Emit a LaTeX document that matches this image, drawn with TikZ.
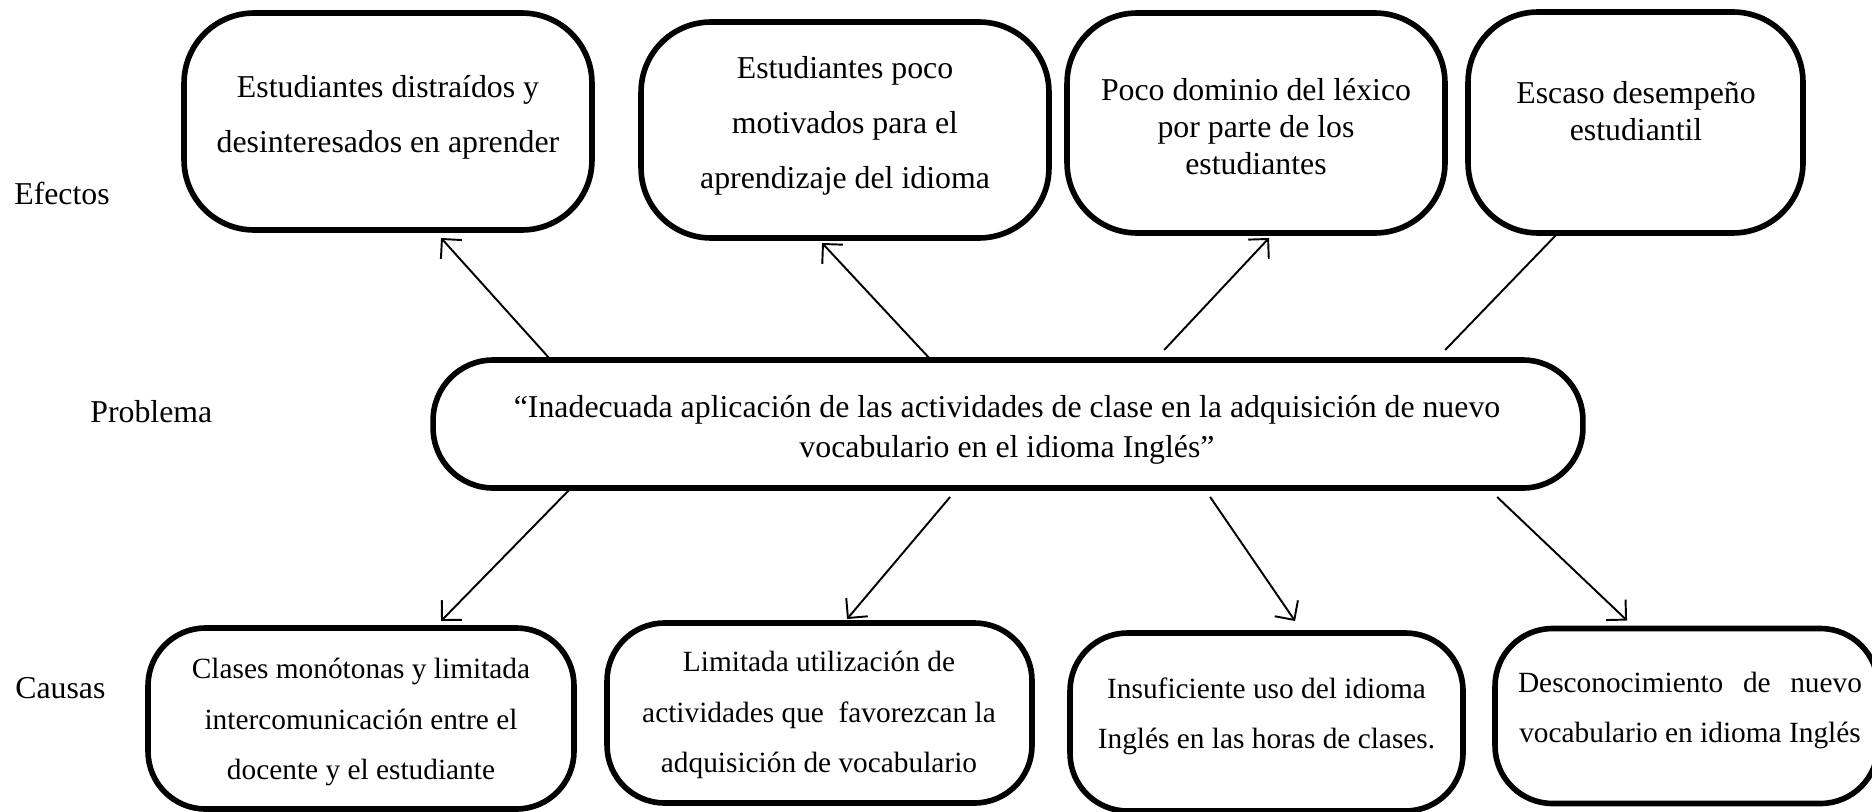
\documentclass[tikz,border=0pt]{standalone}
\usepackage{fontspec}
\setmainfont{Liberation Serif}
\usepackage{tikz}
\usetikzlibrary{shapes,arrows.meta,positioning,calc}
\tikzset{>={Straight Barb[length=8pt,width=16pt]}}
\tikzset{
  caja/.style={draw,line width=3.2pt,rounded corners=1.4cm,outer sep=0pt,inner sep=0pt},
  cajab/.style={caja,rounded corners=1.15cm},
  conector/.style={line width=1.1pt},
  txtefecto/.style={align=center,inner sep=0pt,font=\fontsize{18.1}{31.2}\selectfont},
  txtefectob/.style={align=center,inner sep=0pt,font=\fontsize{18.1}{21}\selectfont},
  txtcausa/.style={align=center,inner sep=0pt,font=\fontsize{16.7}{28.6}\selectfont},
  rotulo/.style={anchor=base west,inner sep=0pt,font=\fontsize{18.1}{21}\selectfont}
}

\begin{document}
\begin{tikzpicture}[x=0.02cm,y=-0.02cm]
    \useasboundingbox (0,0) rectangle (1872,811);

    \node [rotulo] (lefectos) at (14,204) {Efectos};
    \node [rotulo] (lproblema) at (90,422) {Problema};
    \node [rotulo] (lcausas) at (15,698) {Causas};

    \node [caja,minimum width=8.16cm,minimum height=4.34cm] (e1) at (388,121.5) {};
    \node [txtefecto] (e1t) at (388,117.5) {Estudiantes distraídos y\\desinteresados en aprender};
    \node [caja,minimum width=8.16cm,minimum height=4.32cm] (e2) at (845,130) {};
    \node [txtefecto] (e2t) at (845,126) {Estudiantes poco\\motivados para el\\aprendizaje del idioma};
    \node [caja,minimum width=7.56cm,minimum height=4.4cm] (e3) at (1256,123) {};
    \node [txtefectob] (e3t) at (1256,126.5) {Poco dominio del léxico\\por parte de los\\estudiantes};
    \node [caja,minimum width=6.7cm,minimum height=4.42cm] (e4) at (1635.5,122.5) {};
    \node [txtefectob] (e4t) at (1636,111) {Escaso desempeño\\estudiantil};

    \node [cajab,rounded corners=1.2cm,minimum width=23cm,minimum height=2.56cm] (prob) at (1008,424) {};
    \node [txtefectob,font=\fontsize{18.1}{22.7}\selectfont] (probt) at (1007,430) {“Inadecuada aplicación de las actividades de clase en la adquisición de nuevo\\vocabulario en el idioma Inglés”};

    \node [cajab,minimum width=8.52cm,minimum height=3.62cm] (c1) at (361,718.5) {};
    \node [txtcausa] (c1t) at (361,722) {Clases monótonas y limitada\\intercomunicación entre el\\docente y el estudiante};
    \node [cajab,minimum width=8.5cm,minimum height=3.6cm] (c2) at (819.5,713) {};
    \node [txtcausa] (c2t) at (819,715) {Limitada utilización de\\actividades que~ favorezcan la\\adquisición de vocabulario};
    \node [cajab,minimum width=7.86cm,minimum height=3.56cm] (c3) at (1266.5,722) {};
    \node [txtcausa] (c3t) at (1266.5,716) {Insuficiente uso del idioma\\Inglés en las horas de clases.};
    \node [cajab,minimum width=7.66cm,minimum height=3.5cm] (c4) at (1686.5,716) {};
    \node [txtcausa] (c4t) at (1690,710.5) {\hbox to 6.88cm{Desconocimiento\hfill de\hfill nuevo}\\vocabulario en idioma Inglés};

    \draw [conector,->] ([shift={(116,-2)}]prob.north west) -- ([shift={(257,8)}]e1.south west);
    \draw [conector,->] ([shift={(497,-1)}]prob.north west) -- ([shift={(181,5)}]e2.south west);
    \draw [conector,->] ([shift={(731,-10)}]prob.north west) -- ([shift={(202,5)}]e3.south west);
    \draw [conector] ([shift={(1012,-10)}]prob.north west) -- ([shift={(90,0)}]e4.south west);

    \draw [conector,->] ([shift={(136,2)}]prob.south west) -- ([shift={(293,-7)}]c1.north west);
    \draw [conector,->] ([shift={(517,9)}]prob.south west) -- ([shift={(240,-4)}]c2.north west);
    \draw [conector,->] ([shift={(777,9)}]prob.south west) -- ([shift={(225,-12)}]c3.north west);
    \draw [conector,->] ([shift={(1064,9)}]prob.south west) -- ([shift={(132,-8)}]c4.north west);
\end{tikzpicture}
\end{document}
